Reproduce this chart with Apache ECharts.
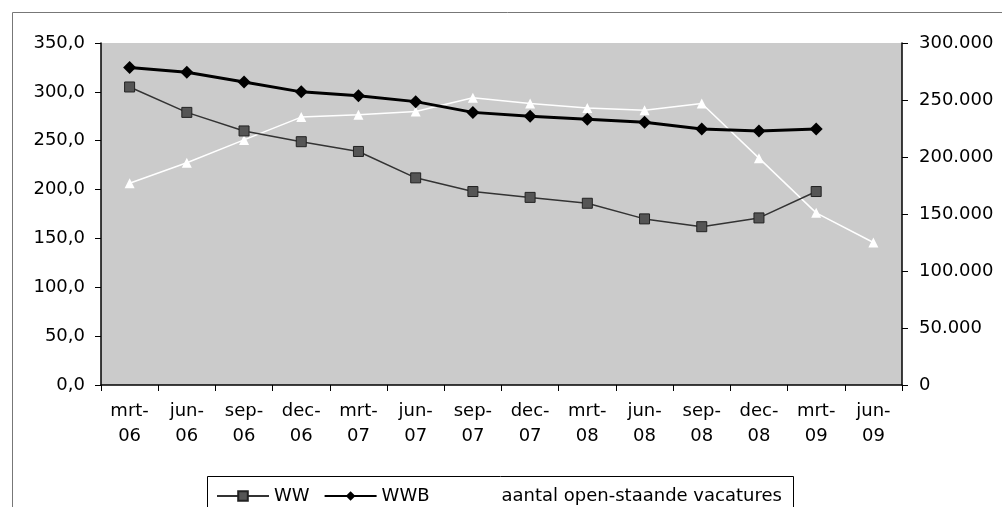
<!DOCTYPE html>
<html>
<head>
<meta charset="utf-8">
<script src="https://cdn.jsdelivr.net/npm/echarts@6/dist/echarts.min.js"></script>
<style>
html,body{margin:0;padding:0;background:#fff;}
#c{width:1002px;height:507px;}
</style>
</head>
<body>
<div id="c"></div>
<script>
var categories = ['mrt-\n06','jun-\n06','sep-\n06','dec-\n06','mrt-\n07','jun-\n07','sep-\n07','dec-\n07','mrt-\n08','jun-\n08','sep-\n08','dec-\n08','mrt-\n09','jun-\n09'];
var ww = [305, 279, 260, 249, 239, 212, 198, 192, 186, 170, 162, 171, 198, null];
var wwb = [325, 320, 310, 300, 296, 290, 279, 275, 272, 269, 262, 260, 262, null];
var vacatures = [177000, 195000, 215000, 235000, 237000, 240000, 252000, 247000, 243000, 241000, 247000, 199000, 151000, 125000];
var leftTicks = {min: 0, max: 350, interval: 50};
var rightTicks = {min: 0, max: 300000, interval: 50000};

var FONT = 'DejaVu Sans';
var chart = echarts.init(document.getElementById('c'));
chart.setOption({
  animation: false,
  textStyle: {fontFamily: FONT},
  graphic: [
    {type: 'polyline', shape: {points: [[12.5, 520], [12.5, 12.5], [1010, 12.5]]}, style: {stroke: '#777', lineWidth: 1, fill: null}},
    {type: 'rect', shape: {x: 207.5, y: 476.5, width: 586, height: 60}, style: {stroke: '#000', lineWidth: 1, fill: '#fff'}, z: 0}
  ],
  grid: {left: 101, right: 100, top: 43, bottom: 122, show: true, backgroundColor: '#cbcbcb', borderWidth: 0},
  legend: {
    left: 211, top: 482, itemWidth: 52, itemHeight: 12, itemGap: 14,
    textStyle: {fontFamily: FONT, fontSize: 18, color: '#000'},
    data: ['WW', 'WWB', 'aantal open-staande vacatures']
  },
  xAxis: {
    type: 'category', data: categories, boundaryGap: true,
    axisLine: {lineStyle: {color: '#000', width: 1.5}},
    axisTick: {show: true, length: 6, lineStyle: {color: '#000'}},
    axisLabel: {color: '#000', fontSize: 18, lineHeight: 25, margin: 14, interval: 0}
  },
  yAxis: [
    {
      type: 'value', min: leftTicks.min, max: leftTicks.max, interval: leftTicks.interval,
      axisLine: {show: true, lineStyle: {color: '#000', width: 1.5}},
      axisTick: {show: true, length: 6, lineStyle: {color: '#000'}},
      splitLine: {show: false},
      axisLabel: {color: '#000', fontSize: 18, margin: 16, formatter: function (v) { return v.toFixed(1).replace('.', ','); }}
    },
    {
      type: 'value', min: rightTicks.min, max: rightTicks.max, interval: rightTicks.interval, position: 'right',
      axisLine: {show: true, lineStyle: {color: '#000', width: 1.5}},
      axisTick: {show: true, length: 6, lineStyle: {color: '#000'}},
      splitLine: {show: false},
      axisLabel: {color: '#000', fontSize: 18, margin: 17, formatter: function (v) { return String(v).replace(/\B(?=(\d{3})+(?!\d))/g, '.'); }}
    }
  ],
  series: [
    {
      name: 'WW', type: 'line', yAxisIndex: 0, data: ww, symbol: 'rect', symbolSize: 10,
      lineStyle: {color: '#333', width: 1.5}, itemStyle: {color: '#555', borderColor: '#222', borderWidth: 1}, z: 3
    },
    {
      name: 'WWB', type: 'line', yAxisIndex: 0, data: wwb, symbol: 'diamond', symbolSize: 13,
      lineStyle: {color: '#000', width: 3}, itemStyle: {color: '#000'}, z: 4
    },
    {
      name: 'aantal open-staande vacatures', type: 'line', yAxisIndex: 1, data: vacatures, symbol: 'triangle', symbolSize: 10,
      lineStyle: {color: '#fff', width: 1.5}, itemStyle: {color: '#fff'}, z: 2
    }
  ]
});
</script>
</body>
</html>
